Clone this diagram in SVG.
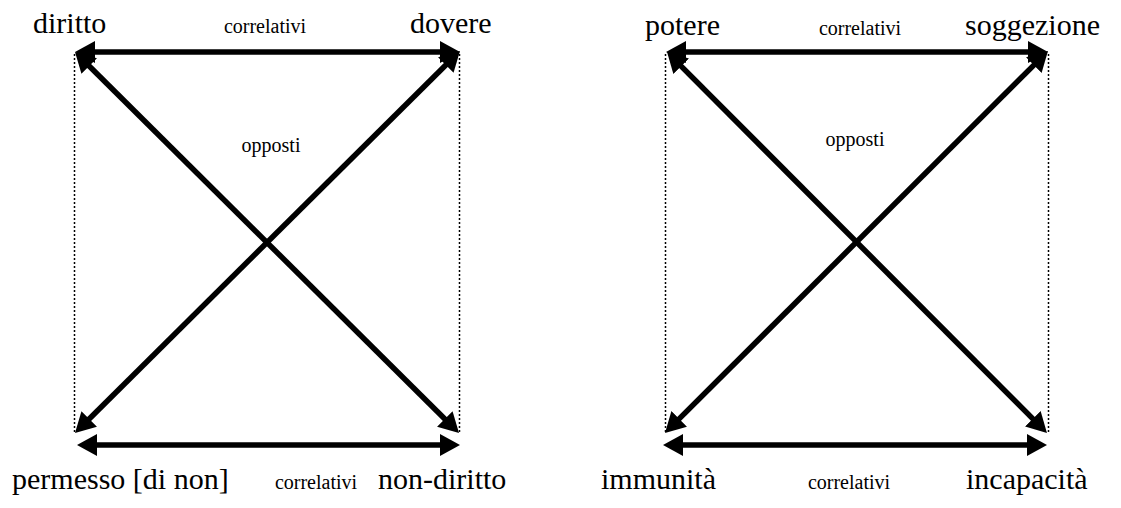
<svg xmlns="http://www.w3.org/2000/svg" width="1121" height="508" viewBox="0 0 1121 508">
  <style>
    text { font-family: "Liberation Serif", "DejaVu Serif", serif; fill: #000; }
    .lbl { font-size: 30px; }
    .sm { font-size: 20px; }
    .arr { stroke: #000; stroke-width: 5.5; fill: none; marker-start: url(#ah); marker-end: url(#ah); }
    .dot { stroke: #000; stroke-width: 1.5; stroke-dasharray: 2 2; fill: none; }
  </style>
  <defs>
    <marker id="ah" viewBox="0 0 20 22" refX="10" refY="11" markerWidth="20" markerHeight="22" markerUnits="userSpaceOnUse" orient="auto-start-reverse">
      <path d="M0,0 L20,11 L0,22 z" fill="#000"/>
    </marker>
  </defs>
  <rect width="1121" height="508" fill="#fff"/>

  <g id="connectors">
    <line class="dot" x1="74.5" y1="54" x2="74.5" y2="433"/>
    <line class="dot" x1="459.5" y1="54" x2="459.5" y2="433"/>
    <line class="arr" x1="85" y1="52" x2="450" y2="52"/>
    <line class="arr" x1="87" y1="445" x2="450" y2="445"/>
    <line class="arr" x1="82.1" y1="59" x2="451.9" y2="426"/>
    <line class="arr" x1="452.9" y1="58" x2="82.1" y2="426"/>
    <line class="dot" x1="665.5" y1="54" x2="665.5" y2="433"/>
    <line class="dot" x1="1048.5" y1="54" x2="1048.5" y2="433"/>
    <line class="arr" x1="676" y1="52" x2="1038" y2="52"/>
    <line class="arr" x1="673" y1="445" x2="1037" y2="445"/>
    <line class="arr" x1="674.1" y1="59.1" x2="1039.9" y2="425.9"/>
    <line class="arr" x1="1040.9" y1="58.1" x2="672.1" y2="425.9"/>
  </g>

  <g id="node-diritto"><text class="lbl" x="33" y="33">diritto</text></g>
  <g id="node-dovere"><text class="lbl" x="410" y="33">dovere</text></g>
  <g id="node-permesso"><text class="lbl" x="12" y="489">permesso [di non]</text></g>
  <g id="node-non-diritto"><text class="lbl" x="378" y="489">non-diritto</text></g>
  <g id="label-left-top"><text class="sm" x="265" y="33" text-anchor="middle">correlativi</text></g>
  <g id="label-left-opp"><text class="sm" x="271" y="152" text-anchor="middle">opposti</text></g>
  <g id="label-left-bottom"><text class="sm" x="316" y="489" text-anchor="middle">correlativi</text></g>

  <g id="node-potere"><text class="lbl" x="645" y="35">potere</text></g>
  <g id="node-soggezione"><text class="lbl" x="965" y="35">soggezione</text></g>
  <g id="node-immunita"><text class="lbl" x="601" y="489">immunità</text></g>
  <g id="node-incapacita"><text class="lbl" x="966" y="489">incapacità</text></g>
  <g id="label-right-top"><text class="sm" x="860" y="35" text-anchor="middle">correlativi</text></g>
  <g id="label-right-opp"><text class="sm" x="855" y="146" text-anchor="middle">opposti</text></g>
  <g id="label-right-bottom"><text class="sm" x="849" y="489" text-anchor="middle">correlativi</text></g>
</svg>
